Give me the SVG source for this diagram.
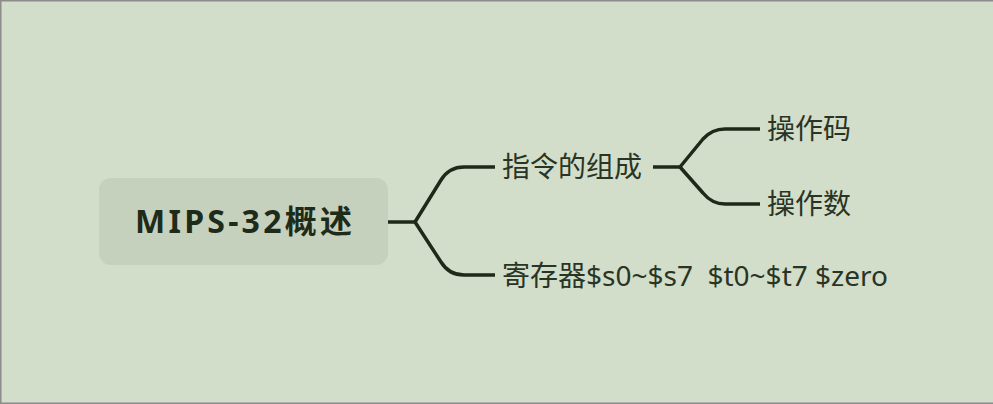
<svg xmlns="http://www.w3.org/2000/svg" width="993" height="404" viewBox="0 0 993 404">
  <style>
    .bg { fill: #d2ddca; }
    .frame { stroke: #8c8c8c; stroke-width: 1.5; fill: none; }
    .root-box { fill: #c5d0bd; }
    .root-text { font-family: "Noto Sans", "Noto Sans CJK SC", sans-serif; font-size: 32px; font-weight: 700; fill: #1f2b19; }
    .label { font-family: "Noto Sans", "Noto Sans CJK SC", sans-serif; font-size: 28px; fill: #2a3424; white-space: pre; }
    .conn { fill: none; stroke: #1e2a18; stroke-width: 3.5; stroke-linejoin: round; stroke-linecap: butt; }
  </style>
  <rect class="bg" x="0" y="0" width="993" height="404"/>
  <path class="frame" d="M0,0.75 H993 M0.75,0 V404 M0,403.25 H993"/>

  <g id="connectors">
    <path class="conn" d="M388,222 H415"/>
    <path class="conn" d="M415,222 L441,180 Q449,167 464,167 H495"/>
    <path class="conn" d="M415,222 L441,262 Q449,275 464,275 H495"/>
    <path class="conn" d="M653,167 H680"/>
    <path class="conn" d="M680,167 L703,139 Q712,129 725,129 H760"/>
    <path class="conn" d="M680,167 L703,193 Q712,204 725,204 H760"/>
  </g>

  <g id="node-root">
    <rect class="root-box" x="99" y="178" width="289" height="87" rx="12" ry="12"/>
    <text class="root-text" x="135" y="233" textLength="217" lengthAdjust="spacing">MIPS-32概述</text>
  </g>

  <g id="node-instr">
    <text class="label" x="502" y="177">指令的组成</text>
  </g>

  <g id="node-opcode">
    <text class="label" x="767" y="139">操作码</text>
  </g>

  <g id="node-operand">
    <text class="label" x="767" y="214">操作数</text>
  </g>

  <g id="node-regs">
    <text class="label" x="502" y="286" xml:space="preserve">寄存器$s0~$s7  $t0~$t7 $zero</text>
  </g>
</svg>
